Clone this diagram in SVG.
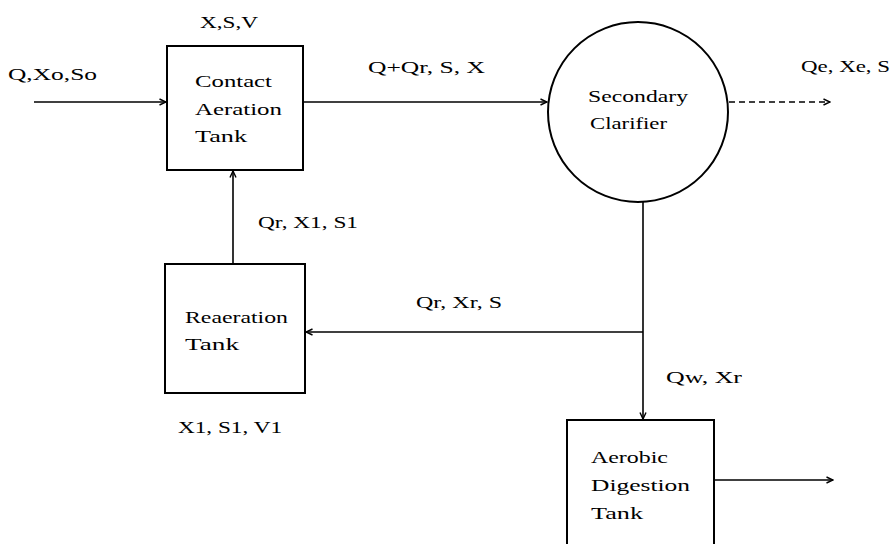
<svg xmlns="http://www.w3.org/2000/svg" width="894" height="544" viewBox="0 0 894 544">
<style>
text{font-family:"Liberation Serif","Times New Roman",serif;font-size:17px;fill:#000}
.box{fill:#fff;stroke:#000;stroke-width:2}
.ln{fill:none;stroke:#000;stroke-width:1.6}
.dash{stroke-dasharray:6,4}
</style>
<defs>
<marker id="ah" viewBox="0 0 8 8" refX="7.5" refY="4" markerWidth="8" markerHeight="8" markerUnits="userSpaceOnUse" orient="auto">
<path d="M1,1 L7.5,4 L1,7" fill="none" stroke="#000" stroke-width="1.4"/>
</marker>
</defs>
<rect width="894" height="544" fill="#fff"/>
<g id="connectors">
<line class="ln" x1="34" y1="102" x2="166" y2="102" marker-end="url(#ah)"/>
<line class="ln" x1="303" y1="102" x2="547" y2="102" marker-end="url(#ah)"/>
<line class="ln dash" x1="729" y1="102" x2="830" y2="102" marker-end="url(#ah)"/>
<line class="ln" x1="643" y1="201" x2="643" y2="419" marker-end="url(#ah)"/>
<line class="ln" x1="643" y1="332" x2="306" y2="332" marker-end="url(#ah)"/>
<line class="ln" x1="233" y1="264" x2="233" y2="171" marker-end="url(#ah)"/>
<line class="ln" x1="714" y1="480" x2="833" y2="480" marker-end="url(#ah)"/>
<text x="8" y="80" textLength="89" lengthAdjust="spacingAndGlyphs">Q,Xo,So</text>
<text x="368" y="73" textLength="117" lengthAdjust="spacingAndGlyphs">Q+Qr, S, X</text>
<text x="801" y="72" textLength="89" lengthAdjust="spacingAndGlyphs">Qe, Xe, S</text>
<text x="258" y="228" textLength="100" lengthAdjust="spacingAndGlyphs">Qr, X1, S1</text>
<text x="416" y="308" textLength="86" lengthAdjust="spacingAndGlyphs">Qr, Xr, S</text>
<text x="666" y="383" textLength="76" lengthAdjust="spacingAndGlyphs">Qw, Xr</text>
</g>
<g id="contact-tank">
<rect class="box" x="167" y="46" width="136" height="124"/>
<text x="200" y="28" textLength="58" lengthAdjust="spacingAndGlyphs">X,S,V</text>
<text x="195" y="87" textLength="77" lengthAdjust="spacingAndGlyphs">Contact</text>
<text x="195" y="115" textLength="87" lengthAdjust="spacingAndGlyphs">Aeration</text>
<text x="195" y="142" textLength="52" lengthAdjust="spacingAndGlyphs">Tank</text>
</g>
<g id="secondary-clarifier">
<circle class="box" cx="638" cy="112" r="90" stroke-width="1.8"/>
<text x="588" y="102" textLength="100" lengthAdjust="spacingAndGlyphs">Secondary</text>
<text x="590" y="129" textLength="77" lengthAdjust="spacingAndGlyphs">Clarifier</text>
</g>
<g id="reaeration-tank">
<rect class="box" x="165" y="264" width="140" height="129"/>
<text x="185" y="323" textLength="103" lengthAdjust="spacingAndGlyphs">Reaeration</text>
<text x="185" y="350" textLength="54" lengthAdjust="spacingAndGlyphs">Tank</text>
<text x="178" y="433" textLength="104" lengthAdjust="spacingAndGlyphs">X1, S1, V1</text>
</g>
<g id="aerobic-digestion-tank">
<rect class="box" x="567" y="420" width="147" height="130"/>
<text x="591" y="463" textLength="77" lengthAdjust="spacingAndGlyphs">Aerobic</text>
<text x="591" y="491" textLength="99" lengthAdjust="spacingAndGlyphs">Digestion</text>
<text x="591" y="519" textLength="52" lengthAdjust="spacingAndGlyphs">Tank</text>
</g>
</svg>
